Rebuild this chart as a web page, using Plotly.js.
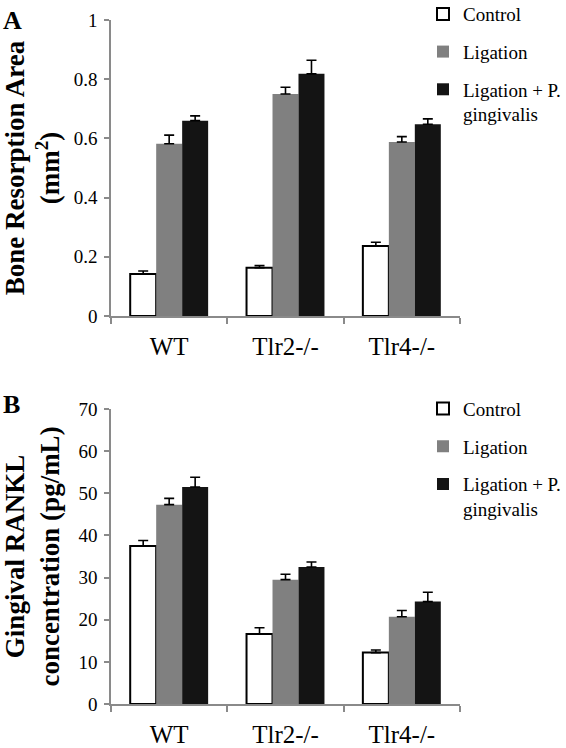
<!DOCTYPE html>
<html>
<head>
<meta charset="utf-8">
<script src="https://cdn.plot.ly/plotly-3.0.1.min.js"></script>
<style>html,body{margin:0;padding:0;background:#fff;}#chart{width:566px;height:748px;}</style>
</head>
<body>
<div id="chart"></div>
<script>
// ---- data ----
const categories = ["WT", "Tlr2-/-", "Tlr4-/-"];
const seriesNames = ["Control", "Ligation", "Ligation + P.<br>gingivalis"];

// Panel A: Bone resorption area (mm²)
const boneControl = [0.142, 0.163, 0.236];
const boneControlErr = [0.010, 0.007, 0.013];
const boneLigation = [0.582, 0.750, 0.588];
const boneLigationErr = [0.029, 0.023, 0.018];
const boneLigPg = [0.660, 0.818, 0.648];
const boneLigPgErr = [0.016, 0.046, 0.018];

// Panel B: Gingival RANKL concentration (pg/mL)
const ranklControl = [37.5, 16.6, 12.2];
const ranklControlErr = [1.3, 1.5, 0.6];
const ranklLigation = [47.3, 29.5, 20.7];
const ranklLigationErr = [1.5, 1.3, 1.5];
const ranklLigPg = [51.5, 32.5, 24.3];
const ranklLigPgErr = [2.3, 1.2, 2.2];

// ---- styles ----
const fills = ["#ffffff", "#808080", "#141414"];
const serif = "Liberation Serif";
const axisGray = "#8a8a8a";

function mk(vals, errs, idx, xa, ya, leg) {
  return {
    type: "bar",
    x: categories,
    y: vals,
    name: seriesNames[idx],
    xaxis: xa, yaxis: ya,
    legend: leg,
    legendgroup: leg + "_" + idx,
    marker: {
      color: fills[idx],
      line: {color: "#000", width: idx === 0 ? 2 : 0}
    },
    error_y: {
      type: "data", symmetric: false, array: errs,
      arrayminus: errs.map(() => 0),
      color: "#000", thickness: 1.6, width: 5
    },
    hoverinfo: "y"
  };
}

const data = [
  mk(boneControl, boneControlErr, 0, "x", "y", "legend"),
  mk(boneLigation, boneLigationErr, 1, "x", "y", "legend"),
  mk(boneLigPg, boneLigPgErr, 2, "x", "y", "legend"),
  mk(ranklControl, ranklControlErr, 0, "x2", "y2", "legend2"),
  mk(ranklLigation, ranklLigationErr, 1, "x2", "y2", "legend2"),
  mk(ranklLigPg, ranklLigPgErr, 2, "x2", "y2", "legend2")
];

const xCommon = {
  type: "category",
  showline: true, linecolor: axisGray, linewidth: 1.5,
  ticks: "outside", tickson: "boundaries", ticklen: 6, tickcolor: axisGray, tickwidth: 1.5,
  tickfont: {family: serif, size: 25, color: "#000"},
  ticklabelstandoff: 7,
  showgrid: false, zeroline: false, fixedrange: true, automargin: false
};
const yCommon = {
  showline: true, linecolor: axisGray, linewidth: 1.5,
  ticks: "outside", ticklen: 5, tickcolor: axisGray, tickwidth: 1.5,
  tickfont: {family: serif, size: 19, color: "#000"},
  ticklabelstandoff: 3,
  showgrid: false, zeroline: false, fixedrange: true, automargin: false
};

const legCommon = {
  font: {family: serif, size: 19, color: "#000"},
  xref: "container",
  xanchor: "right", yanchor: "top",
  bgcolor: "rgba(0,0,0,0)",
  tracegroupgap: 10,
  valign: "top",
  itemclick: false, itemdoubleclick: false
};

const layout = {
  width: 566, height: 748,
  margin: {l: 111, r: 106, t: 20, b: 44, autoexpand: false},
  paper_bgcolor: "#fff", plot_bgcolor: "#fff",
  barmode: "group", bargap: 0.33, bargroupgap: 0,
  showlegend: true,
  font: {family: serif, color: "#000"},
  xaxis: Object.assign({}, xCommon, {anchor: "y", domain: [0, 1]}),
  yaxis: Object.assign({}, yCommon, {
    anchor: "x", domain: [0.5673, 1], range: [0, 1], dtick: 0.2,
    title: {text: "<b>Bone Resorption Area<br>(mm<sup>2</sup>)</b>", font: {family: serif, size: 27, color: "#000"}, standoff: 14}
  }),
  xaxis2: Object.assign({}, xCommon, {anchor: "y2", domain: [0, 1]}),
  yaxis2: Object.assign({}, yCommon, {
    anchor: "x2", domain: [0, 0.4313], range: [0, 70], dtick: 10,
    title: {text: "<b>Gingival RANKL<br>concentration (pg/mL)</b>", font: {family: serif, size: 27, color: "#000"}, standoff: 14}
  }),
  legend: Object.assign({}, legCommon, {x: 1, yref: "paper", y: 1.0365}),
  legend2: Object.assign({}, legCommon, {x: 1, yref: "container", y: 0.479}),
  annotations: [
    {text: "<b>A</b>", xref: "paper", yref: "paper", x: -0.315, y: 1.024, xanchor: "left", yanchor: "top",
     showarrow: false, font: {family: serif, size: 26, color: "#000"}},
    {text: "<b>B</b>", xref: "paper", yref: "paper", x: -0.315, y: 0.462, xanchor: "left", yanchor: "top",
     showarrow: false, font: {family: serif, size: 26, color: "#000"}}
  ]
};

Plotly.newPlot("chart", data, layout, {displayModeBar: false});
</script>
</body>
</html>
